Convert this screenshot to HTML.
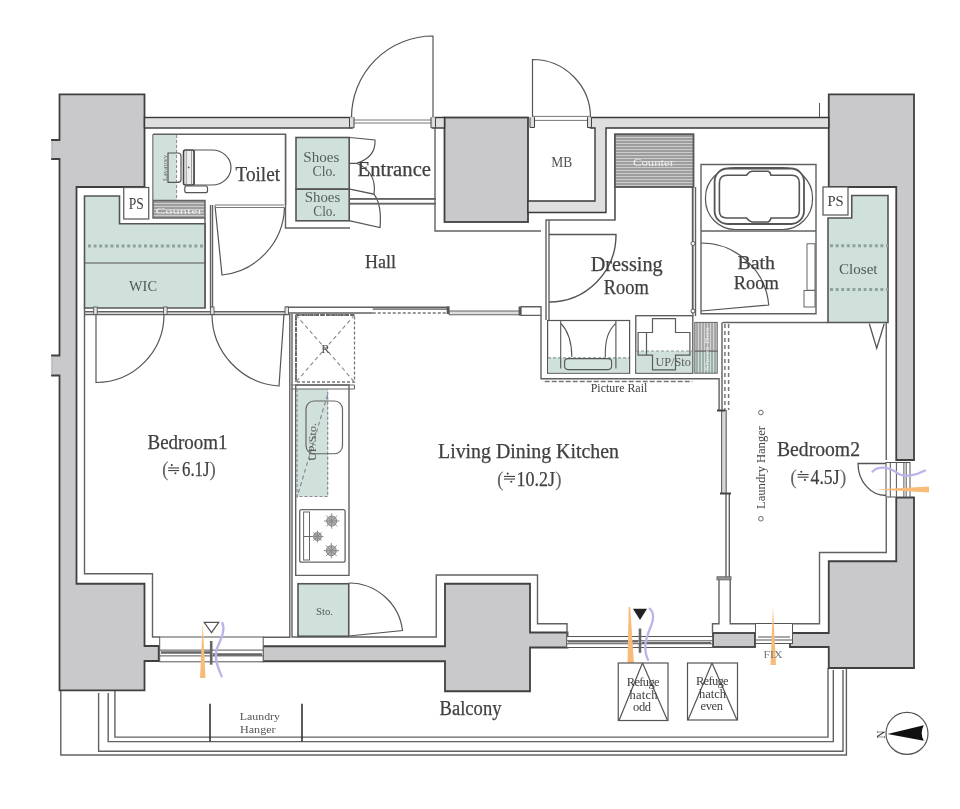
<!DOCTYPE html>
<html><head><meta charset="utf-8">
<style>
html,body{margin:0;padding:0;background:#fff;}
#c{position:relative;width:960px;height:809px;overflow:hidden;background:#fff;}
svg{position:absolute;left:0;top:0;will-change:transform;}
text{font-family:"Liberation Serif",serif;fill:#404040;}
.b{stroke:#404040;stroke-width:0.25;}
.w{fill:#c9c9cc;stroke:#404040;stroke-width:1.8;}
.lw{fill:#dfdfdf;stroke:#383838;stroke-width:1.4;}
.l{fill:none;stroke:#616161;stroke-width:1.4;}
.l2{fill:none;stroke:#444;stroke-width:1.5;}
.m{fill:#d0e1db;stroke:#555;stroke-width:1.6;}
.mf{fill:#d0e1db;stroke:none;}
.d{fill:none;stroke:#666;stroke-width:1.2;stroke-dasharray:3 2;}
.dm{fill:none;stroke:#8fa29c;stroke-width:3;stroke-dasharray:3 2.6;}
</style></head><body><div id="c">
<svg width="960" height="809" viewBox="0 0 960 809">
<defs>
<pattern id="hz" width="4" height="3" patternUnits="userSpaceOnUse"><rect width="4" height="3" fill="#9d9d9d"/><rect y="2" width="4" height="1" fill="#cdcdcd"/></pattern>
<pattern id="vt" width="3" height="4" patternUnits="userSpaceOnUse"><rect width="3" height="4" fill="#a8a8a8"/><rect x="2" width="1" height="4" fill="#d4d4d4"/></pattern>
<pattern id="vtm" width="3" height="4" patternUnits="userSpaceOnUse"><rect width="3" height="4" fill="#9fb0aa"/><rect x="2" width="1" height="4" fill="#cfe0da"/></pattern>
</defs>
<!-- ===== BALCONY OUTLINES ===== -->
<g class="l" stroke="#777">
<path d="M60.8 690 V755 H846.4 V668"/>
<path d="M98.6 693 V751.2 H843 V670"/>
<path d="M108.2 693 V741.6 H833.3 V670"/>
<path d="M114.9 690 V737.1 H828 V668"/>
</g>
<!-- ===== CONCRETE ===== -->
<path class="w" d="M59.5 94.3 H144.5 V187 H76.5 V583.75 H144.5 V646 H158.75 V661 H144.5 V690.4 H59.5 V375.5 H52 V355.5 H59.5 V159 H52 V140 H59.5 Z"/>
<rect class="w" x="444.5" y="117.5" width="83.5" height="104.5"/>
<rect x="50.9" y="141" width="2" height="17.2" fill="#c9c9cc"/>
<rect x="50.9" y="356.4" width="2" height="18.2" fill="#c9c9cc"/>
<path class="w" d="M828.75 94.3 H914 V460 H896.25 V187 H828.75 Z"/>
<path class="w" d="M896.25 497.5 H914 V668 H828.75 V647 H790 V633 H828.75 V561.25 H896.25 Z"/>
<path class="w" d="M445 583.75 H530 V632.5 H567.5 V647.5 H530 V691.25 H445 V661.25 H262.5 V646.25 H445 Z"/>
<rect class="w" x="713" y="633" width="42" height="14"/>
<!-- ===== LIGHT WALLS ===== -->
<rect class="lw" x="144.5" y="117.5" width="207.5" height="10.5"/>
<rect class="lw" x="433" y="117.5" width="11.5" height="10.5"/>
<path class="lw" d="M590.5 117.5 H828.75 V128 H606 V212.5 H528 V201 H595 V128 H590.5 Z"/>

<!-- ===== ROOM BOUNDARY LINES ===== -->
<g class="l">
<!-- toilet room -->
<path d="M153 134.3 H285.6 V205"/>
<path d="M153 134.3 V200"/>
<!-- left rooms boundary -->
<path d="M84.5 308 V573.75 H152.5 V637 H160"/>
<path d="M84.5 314.5 H289"/>
<path d="M84.5 311.8 H285"/>
<path d="M210.5 205 V309"/>
<path d="M212.5 205 V309"/>
<path d="M205 218 V308"/>
<!-- hall / entrance -->
<path d="M285.5 134 V228 H350"/>
<path d="M350 198.75 H436 M350 203.75 H436"/>
<path d="M435 128 V231 H541"/>
<path d="M606 212.5 V212.5"/>
<path d="M615 187 V220 H546 V320"/>
<path d="M549 220 V320"/>
<!-- hall/ldk divider -->
<path d="M285.25 307.3 H449.2 M285.25 313 H372.75"/>
<path d="M541 315.4 V378.75 H719.1 V410"/>
<path d="M520.6 306.7 H541 V315.4 H520.6"/>
<!-- kitchen column -->
<path d="M289.8 314 V637.3 H263"/>
<path d="M292 314 V637 H436.25 V575 H537.5 V623.75 H567 V636.5"/>
<path d="M295.7 385 V575.4 H349 V385 Z"/>
<!-- dressing/bath -->
<path d="M692.5 187 V313.75"/>
<path d="M695.5 187 V316"/>
<path d="M701 164.5 H816 V313.75 H701 Z"/>
<path d="M701 231 H816"/>
<!-- bedroom2 -->
<path d="M722.5 322.5 H828"/>
<path d="M886.25 322.5 V460 M886.25 497.5 V552.5 H819.5 V623.75 H792.5"/>
<path d="M722 322.5 V410"/>
<path d="M719 579.8 V623.75 H712.5 V633 M730.2 579.8 V623.75 H755.5"/>
<path d="M726 493.5 V578 M729.3 493.5 V578"/>
<!-- bedroom1 right -->
<path d="M288 573.75"/>
</g>

<!-- ===== MINT AREAS ===== -->
<path class="m" d="M84.5 196 H119.5 V223.75 H205 V308 H84.5 Z"/>
<line x1="84.5" y1="263" x2="205" y2="263" stroke="#555" stroke-width="1.2"/>
<line x1="88" y1="246" x2="205" y2="246" class="dm"/>
<rect class="mf" x="153.6" y="135" width="23" height="65"/>
<line x1="176.6" y1="135" x2="176.6" y2="200" stroke="#888" stroke-width="1" stroke-dasharray="3 2"/>
<rect class="m" x="296" y="137.5" width="53.2" height="51.7"/>
<rect class="m" x="296" y="189.2" width="53.2" height="31.6"/>
<path class="m" d="M851.75 195.5 H888 V322.5 H828 V218 H851.75 Z"/>
<line x1="830" y1="245.75" x2="888" y2="245.75" class="dm"/>
<line x1="830" y1="289.5" x2="888" y2="289.5" class="dm"/>
<rect class="m" x="298" y="583.75" width="50.75" height="52.5"/>
<rect class="mf" x="297" y="389" width="31" height="107.5"/>
<!-- PS boxes -->
<rect x="123.75" y="187.5" width="25" height="31.5" fill="#fff" stroke="#555" stroke-width="1.2"/>
<rect x="823" y="187" width="25" height="28" fill="#fff" stroke="#555" stroke-width="1.2"/>


<!-- ===== DOORS ===== -->
<g fill="none" stroke="#555" stroke-width="1.2">
<path d="M433 117.5 V36 A81.5 81.5 0 0 0 351.5 117.5"/>
<path d="M532.5 117.5 V59.5 A58 58 0 0 1 590.5 117.5"/>
<path d="M215 205.5 L222 275 A70 70 0 0 0 284.5 207.5"/>
<path d="M96 314 V382.5 A68 68 0 0 0 164 314"/>
<path d="M284 314 L279 386 A72 72 0 0 1 212 314"/>
<path d="M549 234.5 H616 A67 67 0 0 1 549 302" stroke-width="1.4"/>
<path d="M701 311 L768.75 305 A68 68 0 0 0 701 243"/>
<path d="M348.75 636 L402.5 630.5 A54 54 0 0 0 348.75 583"/>
<path d="M350 137.5 L375 140 Q376 157 356.7 163.3 H350 M350 189.2 L374 194.2 Q377 172 356.7 163.3"/>
<path d="M374 194.2 Q382 205 380 227.5 L350 220.8"/>
<path d="M886 463.5 H858 A28 32 0 0 0 886 495.5" stroke-width="1.3"/>
<path d="M869.3 323.7 L876.7 348.2 L884.2 323.7" stroke-width="1.3"/>
</g>
<!-- thresholds -->
<g fill="none" stroke="#777" stroke-width="1">
<path d="M352 120 H433 M352 123 H433"/>
<path d="M532 116.4 H590.7 M532 120.4 H590.7"/>
<path d="M215 205 H284 M215 207.5 H284"/>
</g>
<path d="M350 199 H436 M350 203.5 H436" fill="none" stroke="#666" stroke-width="1.5"/>

<!-- ===== WINDOWS ===== -->
<g fill="none" stroke="#555" stroke-width="1">
<rect x="159.7" y="637" width="103.5" height="24.8" fill="#fff"/>
<path d="M159.7 650.1 H263.2 M159.7 655.9 H263.2"/>
<path d="M161 652.5 H210 M213 654.5 H262" stroke="#666" stroke-width="2.5"/>
<rect x="566.7" y="636.5" width="146" height="11" fill="#fff"/>
<path d="M566.7 640.8 H712.7 M566.7 643.75 H712.7"/>
<path d="M568 641.5 H638 M642 643 H711" stroke="#666" stroke-width="2"/>
<rect x="755.5" y="623.5" width="37" height="20" fill="#fff"/>
<path d="M755.5 640 H792.5 M758 637 H790" />
<rect x="886" y="462.5" width="24" height="34.5" fill="#fff"/>
<path d="M890.3 462.5 V497 M896.4 462.5 V497 M903.9 462.5 V497 M906.2 462.5 V497"/>
</g>
<!-- window indicators -->
<g fill="none" stroke-linecap="round">
<path d="M202.7 623 L200 678 L205.5 678 Z" fill="#f8bb78" stroke="none"/>
<path d="M630.2 607 L628.7 607 L627.5 664 L634 664 Z" fill="#f8bb78" stroke="none"/>
<path d="M773 607.5 L770.5 665 L776 665 Z" fill="#f8bb78" stroke="none"/>
<path d="M876 489.5 L929 486.5 L929 492.5 Z" fill="#f8bb78" stroke="none"/>
<path d="M222.4 623 C226 632 219 642 216.5 650 C214 660 219 670 221.7 676.4" stroke="#bab4ec" stroke-width="2.3"/>
<path d="M649.6 608.7 C654 612 654 620 651 626 C648 633 645 640 645.3 647.6 C645.5 653 646.5 657 648 659.7" stroke="#bab4ec" stroke-width="2.3"/>
<path d="M872.5 471.6 C878 466 888 466 898.75 474 C905 477 915 476 925 470.6" stroke="#bab4ec" stroke-width="2.3"/>
</g>
<path d="M204.2 622.4 H218.75 L211.5 632.6 Z" fill="#fff" stroke="#555" stroke-width="1.2"/>
<path d="M633 608.75 H647 L640 620 Z" fill="#222"/>
<path d="M211.2 641 V664.7" stroke="#666" stroke-width="2.6"/>
<path d="M640 628.5 V652.8" stroke="#666" stroke-width="2.6"/>

<!-- ===== FIXTURES ===== -->
<!-- toilet -->
<g fill="#fff" stroke="#555" stroke-width="1.2">
<path d="M172 153 H168 V182.3 H172 M171 153 H178 Q181 153 181 156 V179.3 Q181 182.3 178 182.3 H171" fill="none"/>
<path d="M194 150 H212 A19 17.5 0 0 1 212 185 H194 Z"/>
<rect x="183.5" y="150" width="10.5" height="35" rx="2" fill="#eee" stroke="#444" stroke-width="1.6"/><path d="M186.3 151 V184 M191.5 151 V184" stroke="#888" stroke-width="0.8"/><circle cx="188.7" cy="167.4" r="0.9" fill="#555" stroke="none"/>
<rect x="184.8" y="186" width="22.7" height="6.7" rx="2"/>
</g>
<rect x="153" y="200.5" width="52" height="17.5" fill="url(#hz)" stroke="#666" stroke-width="1.5"/>
<!-- MB text etc -->
<rect x="614.9" y="134.2" width="78.6" height="52.8" fill="url(#hz)" stroke="#555" stroke-width="1.8"/>
<path d="M614.9 187 V220 M693 187 V316" fill="none" stroke="#555" stroke-width="1"/>
<!-- bath -->
<rect x="705.5" y="167.5" width="107" height="62" rx="30" fill="none" stroke="#555" stroke-width="1.2"/>
<rect x="714.6" y="168.5" width="89.4" height="55.5" rx="13" fill="#fff" stroke="#555" stroke-width="1.8"/>
<path d="M727 175.3 H746.5 Q749 171.5 752 171.2 H768 Q770 171.5 771 175.3 H792 Q799.3 175.3 799.3 183 V211 Q799.3 218 792 218 H771 Q770 221.5 768 222 H752 Q749 221.5 746.5 218 H727 Q719.4 218 719.4 211 V183 Q719.4 175.3 727 175.3 Z" fill="#fff" stroke="#555" stroke-width="1.6"/>
<rect x="807" y="243.75" width="8" height="46.5" fill="#fff" stroke="#666" stroke-width="1"/>
<rect x="804" y="290.5" width="11" height="16.5" fill="#fff" stroke="#666" stroke-width="1"/>
<circle cx="693" cy="243.5" r="2" fill="#fff" stroke="#555"/>
<circle cx="693" cy="311" r="2" fill="#fff" stroke="#555"/>
<!-- dressing lower -->
<rect x="547.6" y="320.5" width="82" height="52.7" fill="#fff" stroke="#555" stroke-width="1.2"/>
<rect x="548.4" y="357.8" width="80.4" height="14.6" class="mf"/>
<line x1="548" y1="357.8" x2="629" y2="357.8" stroke="#8a9a96" stroke-width="1.2" stroke-dasharray="3 2"/>
<path d="M560.7 321 V368.6 M615.9 321 V368.6 M561.2 323.6 C568 331 571.8 340 571.8 357 M615.4 323.6 C608 331 605 340 605.3 357" fill="none" stroke="#555" stroke-width="1.1"/>
<rect x="564.6" y="358.6" width="47" height="11" rx="3.5" fill="#d3e3de" stroke="#555" stroke-width="1.1"/>
<rect x="635.8" y="315.7" width="57" height="57.5" fill="#fff" stroke="#555" stroke-width="1.3"/>
<rect x="636.5" y="351" width="55.6" height="21.5" class="mf"/>
<line x1="636" y1="351" x2="692" y2="351" stroke="#8a9a96" stroke-width="1.2" stroke-dasharray="3 2"/>
<path d="M638.1 332.5 H652.5 V318.6 H675.5 V332.5 H689.9 V355.1 H675.5 V369.9 H652.5 V355.1 H638.1 Z M646.5 332.5 V355.1" fill="none" stroke="#5a5a5a" stroke-width="1.2"/>
<rect x="694.8" y="322.4" width="22.4" height="28.8" fill="url(#vt)" stroke="#666" stroke-width="1"/>
<rect x="694.8" y="351.2" width="22.4" height="22" fill="url(#vtm)" stroke="#666" stroke-width="1"/>
<line x1="544.7" y1="381.4" x2="692.3" y2="381.4" stroke="#777" stroke-width="1.5" stroke-dasharray="5 2"/>
<!-- bedroom2 partition -->
<path d="M724.9 324 V410 M728.6 324 V410" stroke="#777" stroke-width="1.5" stroke-dasharray="4 3" fill="none"/>
<rect x="721.6" y="410.5" width="4.6" height="83" fill="#d6d6d6" stroke="#555" stroke-width="1"/>
<path d="M717 410.5 H725 M720 493.5 H731" stroke="#444" stroke-width="2.2"/>
<rect x="717" y="576.8" width="14" height="3" fill="#999" stroke="#666" stroke-width="1"/>
<circle cx="760.9" cy="412.5" r="2.3" fill="#fff" stroke="#666" stroke-width="1"/>
<circle cx="760.9" cy="518.75" r="2.3" fill="#fff" stroke="#666" stroke-width="1"/>
<!-- kitchen -->
<path d="M296 315 H354.5 V382 H296 Z" fill="none" stroke="#777" stroke-width="1.3" stroke-dasharray="3 2"/>
<path d="M296 315 H354.5 M296 315 V382" fill="none" stroke="#555" stroke-width="1.6" stroke-dasharray="5 1"/>
<path d="M296 315 L354.5 382 M354.5 315 L296 382" fill="none" stroke="#888" stroke-width="1.1" stroke-dasharray="4 3"/>
<path d="M291 385 H354.5 M291 389 H354.5 V385" fill="none" stroke="#666" stroke-width="1"/>
<path d="M297 389 V496.5 H327.7 V389" fill="none" stroke="#889" stroke-width="1.2" stroke-dasharray="3 2"/>
<path d="M327.5 395 L297 497.5" fill="none" stroke="#889" stroke-width="1.2" stroke-dasharray="4 3"/>
<rect x="306" y="401" width="36.5" height="52.75" rx="8" fill="none" stroke="#666" stroke-width="1.2"/>
<rect x="299.7" y="509.6" width="45.4" height="52.6" rx="2" fill="#fff" stroke="#666" stroke-width="1.3"/>
<rect x="303.6" y="512" width="5.9" height="48" fill="#fff" stroke="#666" stroke-width="1"/>
<line x1="303.6" y1="536.5" x2="316" y2="536.5" stroke="#666"/>
<g stroke="#888" stroke-width="1" fill="#b0b0b0">
<circle cx="331.7" cy="521" r="5"/><circle cx="317.4" cy="536.5" r="4"/><circle cx="331.3" cy="550.7" r="5"/>
</g>
<g stroke="#8a8a8a" stroke-width="1">
<path d="M324 521 H339.4 M331.7 513.3 V528.7 M326.3 515.6 L337.1 526.4 M337.1 515.6 L326.3 526.4"/>
<path d="M311.4 536.5 H323.4 M317.4 530.5 V542.5 M313.2 532.3 L321.6 540.7 M321.6 532.3 L313.2 540.7"/>
<path d="M323.6 550.7 H339 M331.3 543 V558.4 M325.9 545.3 L336.7 556.1 M336.7 545.3 L325.9 556.1"/>
</g>
<!-- refuge hatches -->
<g fill="#fff" stroke="#555" stroke-width="1.2">
<rect x="618.25" y="663" width="49.75" height="57.5"/>
<path d="M642.5 663 L619 720.5 M642.5 663 L667.5 720.5" fill="none"/>
<rect x="687.5" y="663" width="50" height="57"/>
<path d="M712 663 L688 720 M712 663 L737 720" fill="none"/>
</g>
<!-- laundry hanger balcony -->
<path d="M210 703.75 V741.6 M302 703.75 V741.6" stroke="#333" stroke-width="1.6"/>
<!-- compass -->
<circle cx="907" cy="733.4" r="21" fill="#fff" stroke="#555" stroke-width="1.2"/>
<path d="M887.5 734 L923.8 725.3 Q919.5 733.4 923.8 740.8 Z" fill="#111"/>

<path d="M819.5 103 V117.5" stroke="#555" stroke-width="1"/>
<rect x="372.75" y="308.3" width="76.5" height="1.6" fill="#777"/>
<line x1="372.75" y1="313" x2="449" y2="313" stroke="#777" stroke-width="1.3" stroke-dasharray="3 2"/>
<rect x="446.7" y="306.5" width="2.8" height="7.5" fill="#555"/>
<rect x="449.2" y="311" width="71.4" height="3.8" fill="#ddd" stroke="#555" stroke-width="0.9"/>
<rect x="518.6" y="306.5" width="3" height="9" fill="#555"/>
<path d="M530 117.2 V127.5 H534.5 V117.2 M587.5 117.2 V127.5 H591.5 V117.2" fill="#ddd" stroke="#444" stroke-width="1"/>
<path d="M349.5 117.2 V127.8 H354 V117.2 M431 117.2 V127.8 H435.5 V117.2" fill="#ddd" stroke="#444" stroke-width="1"/>
<g fill="#e4e4e4" stroke="#555" stroke-width="0.9">
<rect x="93.7" y="307" width="3.5" height="7.5"/><rect x="163.6" y="307" width="3.5" height="7.5"/>
<rect x="210.6" y="307" width="3.4" height="7.5"/><rect x="285" y="307" width="3.5" height="7.5"/>
</g>
<!-- ===== TEXT ===== -->
<text class="b" x="235.6" y="180.9" font-size="20" textLength="44.4" lengthAdjust="spacingAndGlyphs">Toilet</text>
<text class="b" x="357.5" y="176" font-size="20" textLength="73.5" lengthAdjust="spacingAndGlyphs">Entrance</text>
<text class="b" x="365" y="267.5" font-size="19" textLength="31" lengthAdjust="spacingAndGlyphs">Hall</text>
<text class="b" x="590.75" y="271" font-size="20" textLength="72" lengthAdjust="spacingAndGlyphs">Dressing</text>
<text class="b" x="603.75" y="293.75" font-size="20" textLength="45" lengthAdjust="spacingAndGlyphs">Room</text>
<text class="b" x="147.5" y="448.75" font-size="20" textLength="80" lengthAdjust="spacingAndGlyphs">Bedroom1</text>
<text x="161.9" y="476.2" font-size="20" style="fill:#666">(</text><g fill="#444"><rect x="168.1" y="467.4" width="11" height="1.1"/><rect x="168.1" y="470.0" width="11" height="1.1"/><circle cx="171.8" cy="465.1" r="1.05"/><circle cx="175.4" cy="473.3" r="1.05"/></g><text class="b" x="182" y="476.2" font-size="20" textLength="27.5" lengthAdjust="spacingAndGlyphs">6.1J</text><text x="209.3" y="476.2" font-size="20" style="fill:#666">)</text>
<text class="b" x="438" y="458" font-size="20" textLength="181" lengthAdjust="spacingAndGlyphs">Living Dining Kitchen</text>
<text x="497" y="485.5" font-size="20" style="fill:#666">(</text><g fill="#444"><rect x="504" y="475.9" width="11" height="1.1"/><rect x="504" y="478.5" width="11" height="1.1"/><circle cx="507.7" cy="473.6" r="1.05"/><circle cx="511.3" cy="481.8" r="1.05"/></g><text class="b" x="516.5" y="485.5" font-size="20" textLength="38.5" lengthAdjust="spacingAndGlyphs">10.2J</text><text x="555" y="485.5" font-size="20" style="fill:#666">)</text>
<text class="b" x="777" y="455.5" font-size="20" textLength="83" lengthAdjust="spacingAndGlyphs">Bedroom2</text>
<text x="790.3" y="484" font-size="20" style="fill:#666">(</text><g fill="#444"><rect x="797.6" y="474.0" width="11" height="1.1"/><rect x="797.6" y="476.6" width="11" height="1.1"/><circle cx="801.3" cy="471.7" r="1.05"/><circle cx="804.9" cy="479.9" r="1.05"/></g><text class="b" x="810.6" y="484" font-size="20" textLength="29" lengthAdjust="spacingAndGlyphs">4.5J</text><text x="839.7" y="484" font-size="20" style="fill:#666">)</text>
<g fill="#556360" style="fill:#55605d">
<text x="303.3" y="161.7" font-size="15" textLength="36" lengthAdjust="spacingAndGlyphs" style="fill:#55605d">Shoes</text>
<text x="312.5" y="175.8" font-size="15" textLength="23.3" lengthAdjust="spacingAndGlyphs" style="fill:#55605d">Clo.</text>
<text x="304.7" y="201.7" font-size="15" textLength="35.5" lengthAdjust="spacingAndGlyphs" style="fill:#55605d">Shoes</text>
<text x="313.3" y="215.8" font-size="15" textLength="22.5" lengthAdjust="spacingAndGlyphs" style="fill:#55605d">Clo.</text>
</g>
<text x="551.3" y="167" font-size="14" textLength="21" lengthAdjust="spacingAndGlyphs" style="fill:#505050">MB</text>
<text x="128.75" y="208.75" font-size="16" textLength="15" lengthAdjust="spacingAndGlyphs">PS</text>
<text x="827.5" y="206.25" font-size="15" textLength="16.25" lengthAdjust="spacingAndGlyphs">PS</text>
<text x="129" y="291" font-size="14" textLength="28" lengthAdjust="spacingAndGlyphs" style="fill:#4d5a57">WIC</text>
<text x="839" y="274" font-size="14" textLength="38.5" lengthAdjust="spacingAndGlyphs" style="fill:#4d5a57">Closet</text>
<text x="316" y="615" font-size="11" textLength="17" lengthAdjust="spacingAndGlyphs" style="fill:#4d5a57">Sto.</text>
<text x="321.3" y="353.3" font-size="13" textLength="8.5" lengthAdjust="spacingAndGlyphs" style="fill:#555">R</text>
<text x="590.7" y="392.3" font-size="13" textLength="56.6" lengthAdjust="spacingAndGlyphs">Picture Rail</text>
<text x="655.4" y="365.6" font-size="12.5" textLength="35.5" lengthAdjust="spacingAndGlyphs" style="fill:#5a5a5a">UP/Sto</text>
<text x="763.5" y="657.5" font-size="11" textLength="19" lengthAdjust="spacingAndGlyphs" style="fill:#777">FIX</text>
<g font-size="12.5" style="fill:#808080" lengthAdjust="spacingAndGlyphs">
<text x="626.8" y="685.7" textLength="32.7">Refuge</text><text x="629.5" y="698.6" textLength="28">hatch</text><text x="633" y="711.4" textLength="18">odd</text>
<text x="696" y="684.7" textLength="32.5">Refuge</text><text x="699" y="697.6" textLength="27">hatch</text><text x="700.5" y="710.4" textLength="22.5">even</text>
</g>
<text x="239.8" y="719.6" font-size="11" textLength="40.2" lengthAdjust="spacingAndGlyphs" style="fill:#555">Laundry</text>
<text x="240" y="732.5" font-size="11" textLength="35.6" lengthAdjust="spacingAndGlyphs" style="fill:#555">Hanger</text>
<text transform="translate(765 509) rotate(-90)" font-size="11.5" textLength="83" lengthAdjust="spacingAndGlyphs">Laundry Hanger</text>
<text transform="translate(316 461) rotate(-90)" font-size="10" textLength="38" lengthAdjust="spacingAndGlyphs" style="fill:#555">UP/Sto.</text>
<text transform="translate(885.3 738.5) rotate(-90)" font-size="12.5" textLength="8" lengthAdjust="spacingAndGlyphs" style="fill:#333">N</text>
<text class="b" x="737.5" y="268.75" font-size="19.5" textLength="37.5" lengthAdjust="spacingAndGlyphs">Bath</text>
<text class="b" x="733.75" y="288.75" font-size="19.5" textLength="45" lengthAdjust="spacingAndGlyphs">Room</text>
<text x="633" y="166" font-size="10" textLength="41" lengthAdjust="spacingAndGlyphs" style="fill:#eee">Counter</text>
<text x="155.5" y="214" font-size="9" textLength="47" lengthAdjust="spacingAndGlyphs" style="fill:#eee">Counter</text>
<text transform="translate(166.5 181) rotate(-90)" font-size="7" textLength="26" lengthAdjust="spacingAndGlyphs" style="fill:#666">Lavatory</text>
<text transform="translate(709 371) rotate(-90)" font-size="7" textLength="44" lengthAdjust="spacingAndGlyphs" style="fill:#eee">Shoes Box</text>
<text class="b" x="439.5" y="715" font-size="20" textLength="62" lengthAdjust="spacingAndGlyphs">Balcony</text>
</svg>
</div></body></html>
